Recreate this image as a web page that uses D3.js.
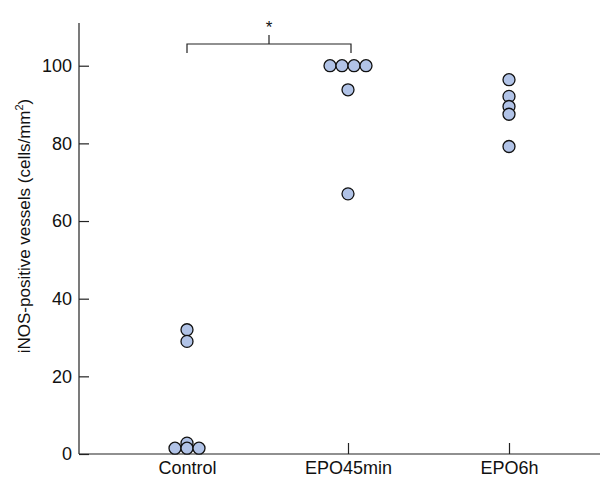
<!DOCTYPE html>
<html>
<head>
<meta charset="utf-8">
<script src="https://cdn.jsdelivr.net/npm/d3@7"></script>
<style>
  body { margin: 0; background: #fff; }
  text { font-family: "Liberation Sans", Arial, sans-serif; }
</style>
</head>
<body>
<script>
// Data
const groups = ["Control", "EPO45min", "EPO6h"];
const control = [32, 29, 2.8, 1.5, 1.5, 1.5];
const epo45 = [100, 100, 100, 100, 93.8, 67];
const epo6h = [96.4, 92.1, 89.5, 87.5, 79.2];
const yTicks = [0, 20, 40, 60, 80, 100];

const values = { "Control": control, "EPO45min": epo45, "EPO6h": epo6h };

const W = 600, H = 478;
const plotLeft = 79, plotBottom = 454, plotTop = 23;
const r = 6;

const svg = d3.select("body").append("svg")
  .attr("width", W)
  .attr("height", H);

const y = d3.scaleLinear().domain([0, 111]).range([plotBottom, plotTop]);
const x = d3.scalePoint().domain(groups).range([187, 509]);

// Y axis, ticks pointing inward
const yAxis = svg.append("g")
  .attr("transform", `translate(${plotLeft},0)`)
  .call(d3.axisRight(y).tickValues(yTicks).tickSize(10).tickFormat(d3.format("d")));
yAxis.select(".domain").attr("d", `M0,${plotTop}V${plotBottom}`).attr("stroke", "#222").attr("stroke-width", 1.2);
yAxis.selectAll(".tick line").attr("stroke", "#222").attr("stroke-width", 1.2);
yAxis.selectAll(".tick text")
  .attr("x", -7)
  .attr("text-anchor", "end")
  .attr("font-size", 18)
  .attr("fill", "#111");

// X axis, ticks pointing up
const xAxis = svg.append("g")
  .attr("transform", `translate(0,${plotBottom})`)
  .call(d3.axisTop(x).tickSize(11));
xAxis.select(".domain").attr("d", `M${plotLeft},0H${W}`).attr("stroke", "#222").attr("stroke-width", 1.2);
xAxis.selectAll(".tick line").attr("stroke", "#222").attr("stroke-width", 1.2);
xAxis.selectAll(".tick text")
  .attr("y", 20)
  .attr("dy", 0)
  .attr("font-size", 18)
  .attr("fill", "#111");

// Y label
const ylab = svg.append("text")
  .attr("transform", "translate(30,226) rotate(-90)")
  .attr("text-anchor", "middle")
  .attr("font-size", 17)
  .attr("fill", "#111");
ylab.append("tspan").text("iNOS-positive vessels (cells/mm");
ylab.append("tspan").attr("font-size", 11).attr("dy", -7).text("2");
ylab.append("tspan").attr("dy", 7).text(")");

// Dodge identical values side by side
const points = [];
groups.forEach(g => {
  const counts = d3.rollup(values[g], v => v.length, d => d);
  const seen = new Map();
  values[g].forEach(v => {
    const n = counts.get(v);
    const i = seen.get(v) || 0;
    seen.set(v, i + 1);
    points.push({ group: g, value: v, dx: (i - (n - 1) / 2) * 2 * r });
  });
});

svg.append("g").selectAll("circle")
  .data(points)
  .join("circle")
  .attr("cx", d => x(d.group) + d.dx)
  .attr("cy", d => y(d.value))
  .attr("r", r)
  .attr("fill", "#b1c3e7")
  .attr("stroke", "#111")
  .attr("stroke-width", 1.3);

// Significance bracket between Control and EPO45min
const bx1 = x("Control"), bx2 = x("EPO45min") + 3, by = 44;
const bmid = (bx1 + bx2) / 2;
svg.append("path")
  .attr("d", `M${bx1},${by + 9}V${by}H${bx2}V${by + 9}M${bmid},${by}V${by - 9}`)
  .attr("fill", "none")
  .attr("stroke", "#222")
  .attr("stroke-width", 1.2);
svg.append("text")
  .attr("x", bmid)
  .attr("y", 33)
  .attr("text-anchor", "middle")
  .attr("font-size", 17)
  .attr("fill", "#111")
  .text("*");
</script>
</body>
</html>
